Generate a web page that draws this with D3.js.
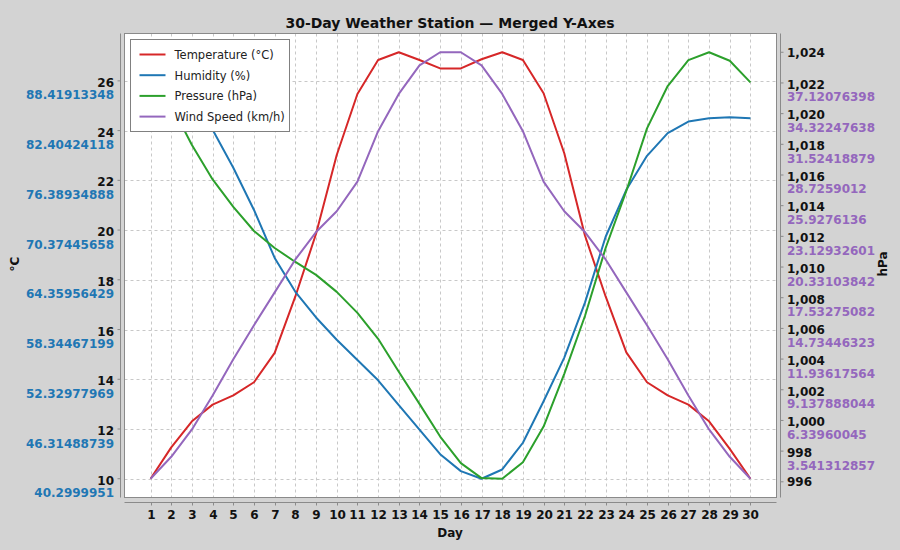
<!DOCTYPE html>
<html>
<head>
<meta charset="utf-8">
<script src="https://cdn.jsdelivr.net/npm/d3@7/dist/d3.min.js"></script>
<style>
  html, body { margin: 0; padding: 0; background: #d3d3d3; }
  svg { display: block; }
  .tick-lbl { font-family: "DejaVu Sans", sans-serif; font-weight: bold; font-size: 12px; }
</style>
</head>
<body>
<div id="chart"></div>
<script>
// values
const days = [1, 2, 3, 4, 5, 6, 7, 8, 9, 10, 11, 12, 13, 14, 15, 16, 17, 18, 19, 20, 21, 22, 23, 24, 25, 26, 27, 28, 29, 30];
const temperature = [10.0, 11.26, 12.31, 12.98, 13.35, 13.88, 15.06, 17.33, 19.85, 23.02, 25.47, 26.84, 27.15, 26.84, 26.5,
  26.5, 26.87, 27.15, 26.84, 25.5, 23.09, 19.78, 17.33, 15.08, 13.88, 13.35, 12.98, 12.31, 11.2, 10.0];
const humidity = [91.87, 89.5, 86.4, 82.5, 77.9, 72.8, 67.0, 62.9, 59.8, 57.1, 54.65, 52.2, 49.2, 46.25, 43.27,
  41.22, 40.3, 41.42, 44.65, 49.67, 54.95, 61.6, 69.56, 75.24, 79.35, 82.09, 83.49, 83.9, 84.02, 83.9];
const pressure = [1023.36, 1020.56, 1017.95, 1015.71, 1013.92, 1012.35, 1011.24, 1010.33, 1009.49, 1008.38, 1007.01,
  1005.32, 1003.17, 1001.08, 998.95, 997.22, 996.24, 996.2, 997.28, 999.6, 1003.04, 1006.81, 1011.24, 1014.96,
  1019.04, 1021.8, 1023.49, 1024.0, 1023.45, 1022.04];
const wind = [1.0, 3.0, 5.5, 8.6, 11.9, 15.0, 18.0, 21.0, 23.5, 25.4, 28.1, 32.7, 36.1, 38.7, 39.9,
  39.9, 38.7, 36.1, 32.7, 28.1, 25.4, 23.5, 21.0, 18.0, 15.0, 11.9, 8.6, 5.5, 3.0, 1.0];

const tempTicks = [10, 12, 14, 16, 18, 20, 22, 24, 26];
const humidityTickLabels = ["40.2999951", "46.31488739", "52.32977969", "58.34467199", "64.35956429",
  "70.37445658", "76.38934888", "82.40424118", "88.41913348"];
const pressureTicks = [996, 998, 1000, 1002, 1004, 1006, 1008, 1010, 1012, 1014, 1016, 1018, 1020, 1022, 1024];
const windTickLabels = ["", "3.541312857", "6.33960045", "9.137888044", "11.93617564", "14.73446323",
  "17.53275082", "20.33103842", "23.12932601", "25.9276136", "28.7259012", "31.52418879", "34.32247638",
  "37.12076398", ""];

const seriesNames = ["Temperature (°C)", "Humidity (%)", "Pressure (hPa)", "Wind Speed (km/h)"];
const seriesColors = ["#d62728", "#1f77b4", "#2ca02c", "#9467bd"];

const W = 900, H = 550;
const plot = { left: 124.5, right: 776.5, top: 33.5, bottom: 497.5 };
const PAD = 0.044;

function padded(vals) {
  const [lo, hi] = d3.extent(vals);
  const p = (hi - lo) * PAD;
  return [lo - p, hi + p];
}

const svg = d3.select("#chart").append("svg").attr("width", W).attr("height", H);
svg.append("rect").attr("width", W).attr("height", H).attr("fill", "#d3d3d3");

const x = d3.scaleLinear().domain([days[0] - 1.26, days[days.length - 1] + 1.26]).range([plot.left, plot.right]);

// left: temperature primary, humidity stretched onto the same pixel span
const yT = d3.scaleLinear().domain(padded(temperature)).range([plot.bottom, plot.top]);
const tExt = d3.extent(temperature);
const yH = d3.scaleLinear().domain(d3.extent(humidity)).range([yT(tExt[0]), yT(tExt[1])]);

// right: pressure primary, wind stretched the same way
const yP = d3.scaleLinear().domain(padded(pressure)).range([plot.bottom, plot.top]);
const pExt = d3.extent(pressure);
const yW = d3.scaleLinear().domain(d3.extent(wind)).range([yP(pExt[0]), yP(pExt[1])]);

svg.append("rect")
  .attr("x", plot.left).attr("y", plot.top)
  .attr("width", plot.right - plot.left).attr("height", plot.bottom - plot.top)
  .attr("fill", "#ffffff");

svg.append("defs").append("clipPath").attr("id", "clip").append("rect")
  .attr("x", plot.left).attr("y", plot.top)
  .attr("width", plot.right - plot.left).attr("height", plot.bottom - plot.top);

// grid
const grid = svg.append("g").attr("stroke", "#c8c8c8").attr("stroke-width", 1).attr("stroke-dasharray", "3,3");
grid.selectAll("line.v").data(days).enter().append("line")
  .attr("x1", (d) => Math.round(x(d)) + 0.5).attr("x2", (d) => Math.round(x(d)) + 0.5)
  .attr("y1", plot.top).attr("y2", plot.bottom);
grid.selectAll("line.h").data(tempTicks).enter().append("line")
  .attr("x1", plot.left).attr("x2", plot.right)
  .attr("y1", (d) => Math.round(yT(d)) + 0.5).attr("y2", (d) => Math.round(yT(d)) + 0.5);

// series
const series = [
  { values: temperature, y: yT },
  { values: humidity, y: yH },
  { values: pressure, y: yP },
  { values: wind, y: yW },
];
const lines = svg.append("g").attr("clip-path", "url(#clip)");
series.forEach((s, i) => {
  const line = d3.line().x((d, k) => x(days[k])).y((d) => s.y(d));
  lines.append("path")
    .attr("d", line(s.values))
    .attr("fill", "none")
    .attr("stroke", seriesColors[i])
    .attr("stroke-width", 2)
    .attr("stroke-linejoin", "round");
});

svg.append("rect")
  .attr("x", plot.left).attr("y", plot.top)
  .attr("width", plot.right - plot.left).attr("height", plot.bottom - plot.top)
  .attr("fill", "none").attr("stroke", "#8a8a8a").attr("stroke-width", 1);

// legend
const lg = svg.append("g").attr("transform", "translate(130.5,39.5)");
lg.append("rect").attr("width", 159).attr("height", 92)
  .attr("fill", "#ffffff").attr("stroke", "#808080").attr("stroke-width", 1);
seriesNames.forEach((name, i) => {
  const yy = 15 + i * 20.7;
  lg.append("line").attr("x1", 9).attr("x2", 35).attr("y1", yy).attr("y2", yy)
    .attr("stroke", seriesColors[i]).attr("stroke-width", 2);
  lg.append("text").attr("x", 44).attr("y", yy + 4.5)
    .attr("font-family", "DejaVu Sans, sans-serif").attr("font-size", 11.5)
    .attr("fill", "#222").text(name);
});

// axes
const axisColor = "#8a8a8a";

// left axis
const leftX = 120.5;
const la = svg.append("g");
la.append("line").attr("x1", leftX).attr("x2", leftX).attr("y1", plot.top).attr("y2", plot.bottom)
  .attr("stroke", axisColor);
tempTicks.forEach((t, i) => {
  const yy = yT(t);
  la.append("line").attr("x1", leftX - 3).attr("x2", leftX).attr("y1", yy).attr("y2", yy).attr("stroke", axisColor);
  la.append("text").attr("class", "tick-lbl").attr("x", 114).attr("y", yy + 6)
    .attr("text-anchor", "end").attr("fill", "#111").text(t);
  la.append("text").attr("class", "tick-lbl").attr("x", 114).attr("y", yy + 18.5)
    .attr("text-anchor", "end").attr("fill", seriesColors[1]).text(humidityTickLabels[i]);
});

// right axis
const rightX = 780.5;
const ra = svg.append("g");
ra.append("line").attr("x1", rightX).attr("x2", rightX).attr("y1", plot.top).attr("y2", plot.bottom)
  .attr("stroke", axisColor);
const fmt = d3.format(",");
pressureTicks.forEach((p, i) => {
  const yy = yP(p);
  const two = windTickLabels[i] !== "";
  ra.append("line").attr("x1", rightX).attr("x2", rightX + 3).attr("y1", yy).attr("y2", yy).attr("stroke", axisColor);
  ra.append("text").attr("class", "tick-lbl").attr("x", 787).attr("y", yy + (two ? 5.8 : 4.5))
    .attr("fill", "#111").text(fmt(p));
  if (two) {
    ra.append("text").attr("class", "tick-lbl").attr("x", 787).attr("y", yy + 18.5)
      .attr("fill", seriesColors[3]).text(windTickLabels[i]);
  }
});

// bottom axis
const bottomY = 502.5;
const ba = svg.append("g");
ba.append("line").attr("x1", plot.left).attr("x2", plot.right).attr("y1", bottomY).attr("y2", bottomY)
  .attr("stroke", axisColor);
days.forEach((d) => {
  const xx = Math.round(x(d)) + 0.5;
  ba.append("line").attr("x1", xx).attr("x2", xx).attr("y1", bottomY).attr("y2", bottomY + 3).attr("stroke", axisColor);
  ba.append("text").attr("class", "tick-lbl").attr("x", xx).attr("y", 518.5)
    .attr("text-anchor", "middle").attr("fill", "#111").text(d);
});

// titles
svg.append("text").attr("x", 450).attr("y", 28).attr("text-anchor", "middle")
  .attr("font-family", "DejaVu Sans, sans-serif").attr("font-weight", "bold").attr("font-size", 14)
  .attr("fill", "#111").text("30-Day Weather Station — Merged Y-Axes");
svg.append("text").attr("class", "tick-lbl").attr("x", 450).attr("y", 537).attr("text-anchor", "middle")
  .attr("fill", "#111").text("Day");
svg.append("text").attr("class", "tick-lbl").attr("text-anchor", "middle").attr("fill", "#111")
  .attr("transform", "translate(19,264) rotate(-90)").text("°C");
svg.append("text").attr("class", "tick-lbl").attr("text-anchor", "middle").attr("fill", "#111")
  .attr("transform", "translate(887,264) rotate(-90)").text("hPa");
</script>
</body>
</html>
